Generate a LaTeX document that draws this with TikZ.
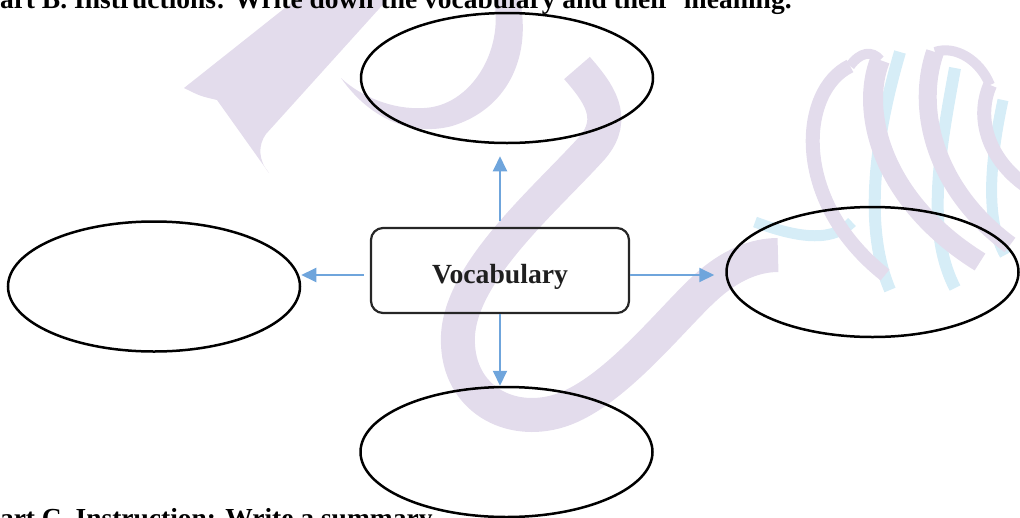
\documentclass[tikz,border=0pt]{standalone}
\usepackage{fontspec}
\setmainfont{Liberation Serif}
\usetikzlibrary{shapes.geometric,arrows.meta}
\definecolor{wmP}{RGB}{227,220,236}
\definecolor{wmB}{RGB}{214,237,247}
\definecolor{arrC}{RGB}{111,165,220}
\begin{document}
\begin{tikzpicture}[x=1pt,y=-1pt,
  bubble/.style={draw=black,ellipse,line width=2.5pt,minimum width=292pt,minimum height=130pt,inner sep=0pt},
  hub/.style={draw=black!85,rounded corners=12pt,line width=2.2pt,minimum width=258pt,minimum height=85pt,inner sep=0pt},
  arr/.style={draw=arrC,line width=2pt,-{Triangle[length=15pt,width=14pt]}},
  hdr/.style={anchor=base west,inner sep=0pt,font=\fontsize{27.5}{30}\selectfont\bfseries},
  wmp/.style={draw=wmP,line cap=butt},
  wmb/.style={draw=wmB,line cap=butt}]
\useasboundingbox (0,0) rectangle (1020,517);
% watermark
\fill[wmP] (184,88) .. controls (200,96) .. (217,100) -- (269,173) .. controls (258,160) and (258,145) .. (266,134) -- (387,0) -- (295,0) -- cycle;
\fill[wmP] (341,78) .. controls (372,122) and (415,136) .. (452,126) .. controls (505,110) and (532,60) .. (520,0) -- (494,0) .. controls (504,52) and (470,106) .. (424,108) .. controls (392,110) and (360,96) .. (341,78) -- cycle;
\draw[wmp,line width=34pt] (577,68) .. controls (598,92) and (618,118) .. (592,148) .. controls (545,200) and (462,270) .. (458,335) .. controls (455,395) and (505,425) .. (555,412) .. controls (610,398) and (670,320) .. (705,288) .. controls (730,265) and (755,255) .. (778,255);
\draw[wmb,line width=11pt] (755,222) .. controls (790,235) and (830,245) .. (852,222);
\draw[wmb,line width=12pt] (900,52) .. controls (880,120) and (860,220) .. (890,290);
\draw[wmb,line width=12pt] (955,68) .. controls (940,150) and (925,230) .. (955,288);
\draw[wmb,line width=11pt] (1003,100) .. controls (990,160) and (985,220) .. (1005,255);
\draw[wmp,line width=14pt] (850,66) .. controls (800,90) and (790,200) .. (885,275);
\draw[wmp,line width=20pt] (880,60) .. controls (860,110) and (880,200) .. (980,262);
\draw[wmp,line width=18pt] (935,52) .. controls (915,110) and (935,190) .. (1010,245);
\draw[wmp,line width=14pt] (990,85) .. controls (975,120) and (990,160) .. (1025,185);
\draw[wmp,line width=10pt] (850,66) .. controls (860,52) and (872,50) .. (880,60);
\draw[wmp,line width=10pt] (935,52) .. controls (955,45) and (980,60) .. (990,85);
% headers
\node[hdr] (partB) at (-17,8) {Part B. Instructions: Write down the vocabulary and their\ \ meaning.};
\node[hdr] (partC) at (-17,527.5) {Part C. Instruction: Write a summary};
% nodes
\node[bubble] (top) at (507,78) {};
\node[bubble] (left) at (154,286.5) {};
\node[bubble] (right) at (872.5,272) {};
\node[bubble] (bottom) at (506.5,452) {};
\node[hub] (box) at (500,270.5) {};
\node[anchor=base,inner sep=0pt,font=\fontsize{27.7}{30}\selectfont\bfseries,text=black!88] (voc) at (500,283) {Vocabulary};
% arrows
\coordinate (ay) at (0,275);
\draw[arr,shorten <=6pt,shorten >=12pt] (box.north) -- (box.north |- top.south);
\draw[arr] (box.south) -- (box.south |- bottom.north);
\draw[arr,shorten <=6pt] (box.west |- ay) -- (left.east |- ay);
\draw[arr,shorten >=11pt] (box.east |- ay) -- (right.west |- ay);
\end{tikzpicture}
\end{document}
